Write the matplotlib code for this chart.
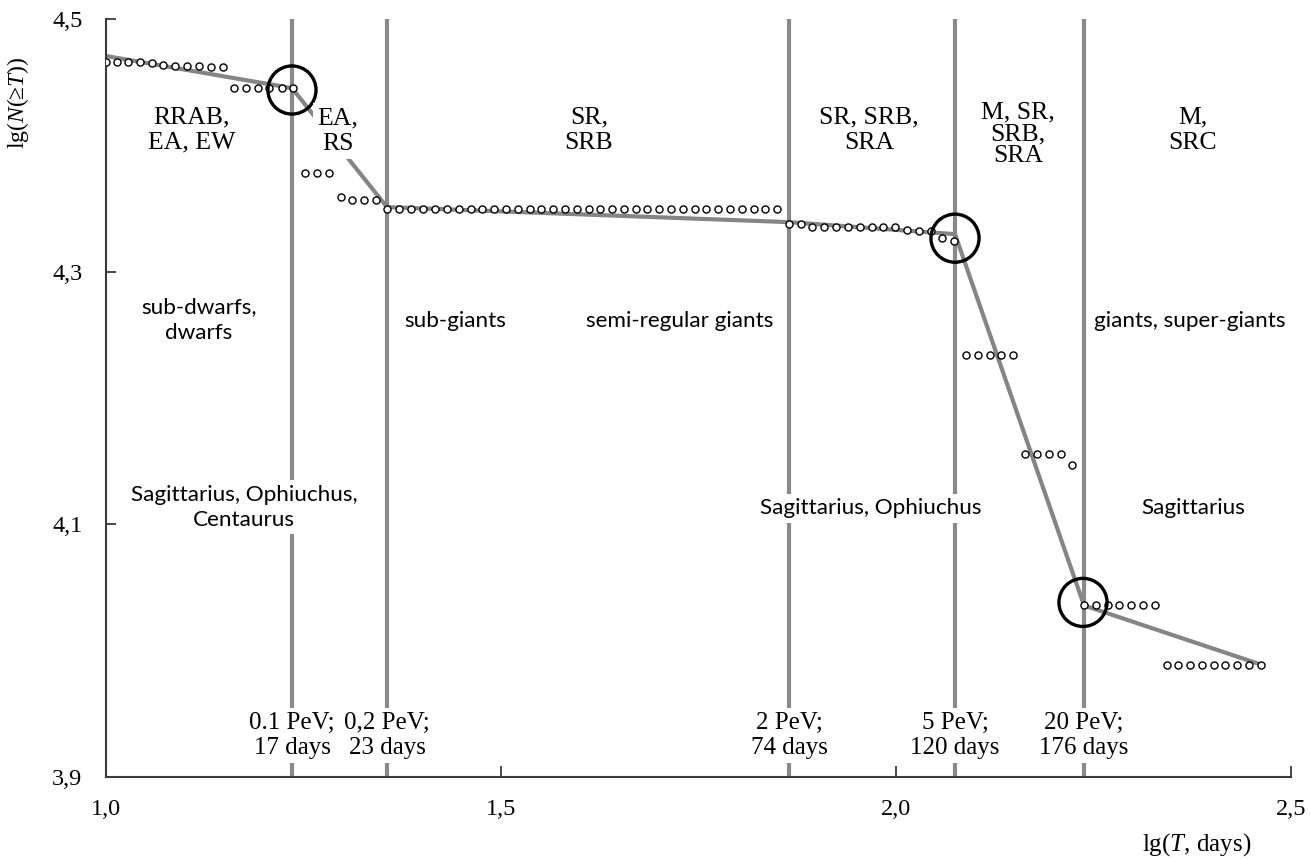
import matplotlib
matplotlib.use("Agg")
import matplotlib.pyplot as plt

plt.rcParams['mathtext.fontset'] = 'custom'
plt.rcParams['mathtext.rm'] = 'Liberation Serif'
plt.rcParams['mathtext.it'] = 'Liberation Serif:italic'

SERIF = ['Liberation Serif', 'DejaVu Serif']
SANS = ['Lato', 'DejaVu Sans']

pts_x = [1.000, 1.0135, 1.0281, 1.0430, 1.0578, 1.0725, 1.0873, 1.1029, 1.1177, 1.1329, 1.1477,
         1.1624, 1.1772, 1.1919, 1.2067, 1.2224, 1.2370,
         1.2519, 1.2667, 1.2818,
         1.2971, 1.3116, 1.3268, 1.3418,
         1.3561, 1.3713, 1.3865, 1.4017, 1.4165, 1.4313, 1.4465, 1.4616, 1.4763, 1.4911,
         1.5063, 1.5211, 1.5363, 1.5510, 1.5658, 1.5810, 1.5958, 1.6110, 1.6257, 1.6405,
         1.6557, 1.6705, 1.6852, 1.7004, 1.7152, 1.7300, 1.7452, 1.7599, 1.7751, 1.7899,
         1.8047, 1.8199, 1.8346, 1.8494,
         1.8649, 1.8794, 1.8939, 1.9089, 1.9241, 1.9392, 1.9544, 1.9692, 1.9839, 1.9987,
         2.0139, 2.0291, 2.0439, 2.0586, 2.0734,
         2.0886, 2.1034, 2.1185, 2.1333, 2.1485,
         2.1633, 2.1781, 2.1933, 2.2085, 2.2231,
         2.2384, 2.2532, 2.2680, 2.2827, 2.2975, 2.3127, 2.3278,
         2.3426, 2.3572, 2.3722, 2.3873, 2.4021, 2.4168, 2.4320, 2.4468, 2.4616]
pts_y = [4.4660, 4.4660, 4.4660, 4.4658, 4.4655, 4.4632, 4.4630, 4.4630, 4.4628, 4.4618, 4.4617,
         4.4456, 4.4456, 4.4456, 4.4456, 4.4456, 4.4456,
         4.3783, 4.3783, 4.3783,
         4.3590, 4.3570, 4.3570, 4.3565,
         4.3500, 4.3500, 4.3500, 4.3497, 4.3497, 4.3497, 4.3497, 4.3497, 4.3497, 4.3497,
         4.3497, 4.3497, 4.3497, 4.3497, 4.3497, 4.3497, 4.3497, 4.3497, 4.3497, 4.3497,
         4.3497, 4.3497, 4.3497, 4.3497, 4.3497, 4.3497, 4.3497, 4.3497, 4.3497, 4.3497,
         4.3497, 4.3497, 4.3497, 4.3497,
         4.3374, 4.3374, 4.3353, 4.3353, 4.3353, 4.3353, 4.3353, 4.3353, 4.3353, 4.3353,
         4.3331, 4.3323, 4.3318, 4.3263, 4.3239,
         4.2339, 4.2339, 4.2339, 4.2339, 4.2339,
         4.1554, 4.1554, 4.1554, 4.1554, 4.1470,
         4.0358, 4.0358, 4.0358, 4.0358, 4.0358, 4.0358, 4.0358,
         3.9889, 3.9889, 3.9889, 3.9889, 3.9889, 3.9889, 3.9889, 3.9889, 3.9889]

# piecewise fit (gray line)
fit_x = [1.000, 1.2354, 1.3557, 1.8646, 2.0747, 2.2380, 2.4620]
fit_y = [4.4707, 4.4453, 4.3511, 4.3392, 4.3297, 4.0358, 3.9890]

# knees marked with circles
knee_x = [1.2354, 2.0747, 2.2367]
knee_y = [4.4438, 4.3265, 4.0382]

# boundaries (lg T)
bound_x = [1.2354, 1.3557, 1.8646, 2.0747, 2.2380]
bound_lbl = ['0.1 PeV;\n17 days', '0,2 PeV;\n23 days', '2 PeV;\n74 days',
             '5 PeV;\n120 days', '20 PeV;\n176 days']

fig = plt.figure(figsize=(13.1, 8.61), dpi=100)
ax = fig.add_axes([106 / 1310, 1 - 777 / 861, 1185 / 1310, 758 / 861])

for bx in bound_x:
    ax.axvline(bx, color='#8a8a8a', lw=3, zorder=1)

ax.plot(fit_x, fit_y, color='#858585', lw=3, zorder=2, solid_capstyle='butt')
ax.scatter(pts_x, pts_y, s=26, facecolors='white', edgecolors='black', linewidths=1.0, zorder=3)
ax.scatter(knee_x, knee_y, s=1200, facecolors='none', edgecolors='black', linewidths=2.4, zorder=4)

box = dict(facecolor='white', edgecolor='none', pad=3)

def ptxt(xp, yp, s, fam, size, ls=1.2):
    # place a label by pixel position of its centre
    x = 1.0 + (xp - 106) / 790.0
    y = 4.5 - (yp - 19) / 1262.5
    ax.text(x, y, s, ha='center', va='center', family=fam, fontsize=size,
            linespacing=ls, bbox=box, zorder=5)

# star classes
ptxt(192, 130, 'RRAB,\nEA, EW', SERIF, 18.5)
ptxt(338, 131, 'EA,\nRS', SERIF, 18.5)
ptxt(589, 130, 'SR,\nSRB', SERIF, 18.5)
ptxt(869, 130, 'SR, SRB,\nSRA', SERIF, 18.5)
ptxt(1018, 134, 'M, SR,\nSRB,\nSRA', SERIF, 18.5, 1.0)
ptxt(1193, 130, 'M,\nSRC', SERIF, 18.5)

# luminosity classes
ptxt(199, 320, 'sub-dwarfs,\ndwarfs', SANS, 16.2, 1.35)
ptxt(455, 321, 'sub-giants', SANS, 16.2)
ptxt(680, 321, 'semi-regular giants', SANS, 16.2)
ptxt(1190, 321, 'giants, super-giants', SANS, 16.2)

# constellations
ptxt(244, 507, 'Sagittarius, Ophiuchus,\nCentaurus', SANS, 16.2, 1.35)
ptxt(871, 508, 'Sagittarius, Ophiuchus', SANS, 16.2)
ptxt(1193, 508, 'Sagittarius', SANS, 16.2)

for bx, lb in zip(bound_x, bound_lbl):
    ptxt(106 + (bx - 1.0) * 790, 735, lb, SERIF, 18, 1.15)

ax.set_xlim(1.0, 2.5)
ax.set_ylim(3.9, 4.5)
ax.set_xticks([1.0, 1.5, 2.0, 2.5])
ax.set_xticklabels(['1,0', '1,5', '2,0', '2,5'])
ax.set_yticks([3.9, 4.1, 4.3, 4.5])
ax.set_yticklabels(['3,9', '4,1', '4,3', '4,5'])
ax.tick_params(axis='both', direction='in', color='#3a3a3a', width=1.3, labelsize=17.5)
ax.tick_params(axis='x', length=8, pad=16)
ax.tick_params(axis='y', length=7, pad=17)
for lab in ax.get_xticklabels() + ax.get_yticklabels():
    lab.set_family(SERIF)

for side in ['top', 'right']:
    ax.spines[side].set_visible(False)
for side in ['left', 'bottom']:
    ax.spines[side].set_color('#3a3a3a')
    ax.spines[side].set_linewidth(1.5)

fig.text(18 / 1310, 1 - 103 / 861, r'lg($N$(≥$T$))', rotation=90, ha='center', va='center',
         family=SERIF, fontsize=17)
fig.text(1197 / 1310, 1 - 845 / 861, r'lg($T$, days)', ha='center', va='center',
         family=SERIF, fontsize=18)

fig.savefig('out.png', dpi=100, facecolor='white')
